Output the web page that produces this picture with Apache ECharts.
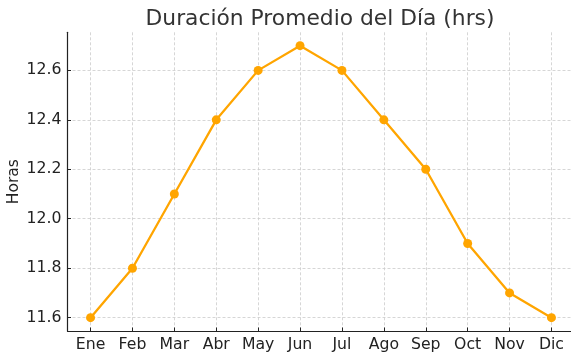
<!DOCTYPE html>
<html>
<head>
<meta charset="utf-8">
<script src="https://cdn.jsdelivr.net/npm/echarts@6/dist/echarts.min.js"></script>
<style>
  html, body { margin: 0; padding: 0; background: #fff; }
  #chart { width: 571px; height: 354px; }
</style>
</head>
<body>
<div id="chart"></div>
<script>
// Mean day length per month (hours)
const months = ['Ene', 'Feb', 'Mar', 'Abr', 'May', 'Jun', 'Jul', 'Ago', 'Sep', 'Oct', 'Nov', 'Dic'];
const hours = [11.6, 11.8, 12.1, 12.4, 12.6, 12.7, 12.6, 12.4, 12.2, 11.9, 11.7, 11.6];
const yTicks = [11.6, 11.8, 12.0, 12.2, 12.4, 12.6];

const FONT = 'DejaVu Sans';
const monthIdx = months.map((_, i) => i);

const chart = echarts.init(document.getElementById('chart'), null, { renderer: 'canvas' });

const gridLine = { show: true, lineStyle: { color: '#cccccc', width: 0.8, type: [3, 2] } };
const axisLine = { show: true, onZero: false, lineStyle: { color: '#222', width: 1.2 } };
const tick = { show: true, inside: true, length: 3.5, lineStyle: { color: '#222', width: 1 } };

chart.setOption({
  animation: false,
  backgroundColor: '#ffffff',
  title: {
    text: 'Duración Promedio del Día (hrs)',
    left: 315, top: 3, textAlign: 'center',
    textStyle: { fontFamily: FONT, fontSize: 21.8, fontWeight: 'normal', color: '#333' }
  },
  grid: { left: 67.5, top: 32.3, width: 507, bottom: 23, outerBoundsMode: 'none', containLabel: false },
  xAxis: {
    type: 'value',
    min: -0.55, max: 11.55,
    axisLine: axisLine,
    axisTick: Object.assign({}, tick, { customValues: monthIdx }),
    splitLine: gridLine,
    axisLabel: {
      customValues: monthIdx,
      formatter: v => months[Math.round(v)],
      margin: 6,
      fontFamily: FONT, fontSize: 15.7, color: '#222'
    }
  },
  yAxis: {
    type: 'value',
    min: 11.546, max: 12.754,
    name: 'Horas',
    nameLocation: 'middle',
    nameGap: 46,
    nameMoveOverlap: false,
    nameTextStyle: { fontFamily: FONT, fontSize: 15.5, color: '#222' },
    axisLine: axisLine,
    axisTick: Object.assign({}, tick, { customValues: yTicks }),
    splitLine: gridLine,
    axisLabel: {
      customValues: yTicks,
      formatter: v => v.toFixed(1),
      margin: 6,
      fontFamily: FONT, fontSize: 15.7, color: '#222'
    }
  },
  series: [{
    type: 'line',
    data: hours.map((h, i) => [monthIdx[i], h]),
    color: '#FFA500',
    lineStyle: { width: 2.3, color: '#FFA500' },
    symbol: 'circle',
    symbolSize: 9,
    itemStyle: { color: '#FFA500' }
  }]
});
</script>
</body>
</html>
